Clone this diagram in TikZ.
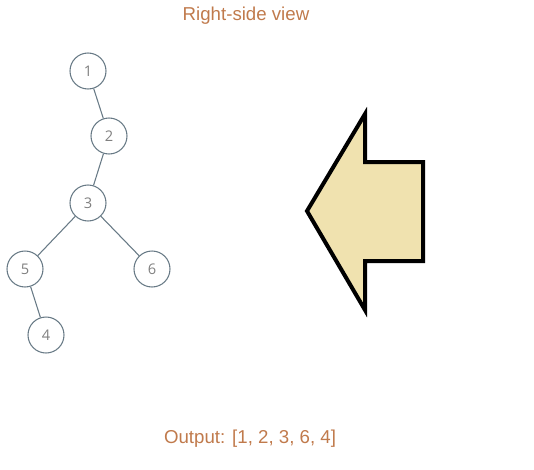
\documentclass[tikz,border=0pt]{standalone}
\usepackage{fontspec}
\setmainfont{Liberation Sans}
\newfontfamily\labelfont{Open Sans}
\usetikzlibrary{positioning}

\definecolor{titlecol}{HTML}{C07A4C}
\definecolor{nodecol}{HTML}{687A86}
\definecolor{arrowfill}{HTML}{F0E2AF}

\begin{document}
\begin{tikzpicture}[x=0.75pt,y=-0.75pt,
    treenode/.style={circle,draw=nodecol,line width=0.8pt,minimum size=27pt,inner sep=0pt,
      text=gray,font=\labelfont\fontsize{11}{12}\selectfont},
    caption/.style={text=titlecol,font=\fontsize{14}{16}\selectfont}]
  \useasboundingbox (0,0) rectangle (534,469);
  \node[caption] (title) at (246,16) {Right-side view};
  \node[caption] (out) at (250,439) {Output: [1, 2, 3, 6, 4]};

  \node[treenode] (n1) at (88,71) {1};
  \node[treenode] (n2) at (109,136) {2};
  \node[treenode] (n3) at (88,203) {3};
  \node[treenode] (n5) at (25,269) {5};
  \node[treenode] (n6) at (152,269) {6};
  \node[treenode] (n4) at (46,335) {4};
  \path[draw=nodecol,line width=0.8pt]
    (n1) edge (n2)
    (n2) edge (n3)
    (n3) edge (n5)
         edge (n6)
    (n5) edge (n4);

  % big arrow pointing at the tree
  \draw[line width=3pt,fill=arrowfill,line join=miter]
    (307,211) -- (365,114) -- (365,162) -- (423,162) -- (423,261)
    -- (365,261) -- (365,310) -- cycle;
\end{tikzpicture}
\end{document}
